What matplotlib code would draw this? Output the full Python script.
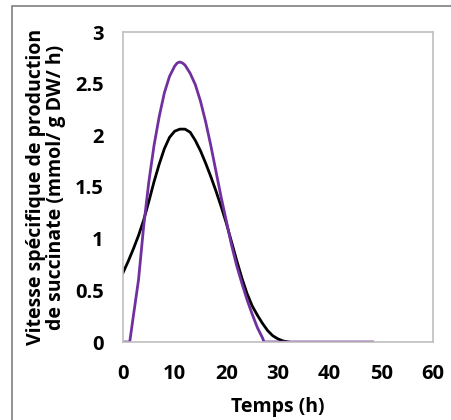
import matplotlib
matplotlib.use("Agg")
from matplotlib import pyplot as plt
from matplotlib.patches import Rectangle

# values
temps_noir = [0, 1, 2, 3, 4, 5, 6, 7, 8, 9, 10, 11, 12, 13, 14, 15, 16,
              17, 18, 19, 20, 21, 22, 23, 24, 25, 26, 27, 28, 29, 30, 31, 32]
vitesse_noir = [0.67, 0.78, 0.90, 1.03, 1.18, 1.36, 1.55, 1.72, 1.87, 1.98,
                2.04, 2.06, 2.06, 2.03, 1.95, 1.85, 1.73, 1.60, 1.46, 1.31,
                1.15, 0.97, 0.79, 0.62, 0.47, 0.35, 0.26, 0.18, 0.11, 0.06,
                0.03, 0.01, 0.0]

temps_violet = [0, 1.3, 2, 3, 4, 5, 6, 7, 8, 9, 10, 10.5, 11, 11.5, 12, 13,
                14, 15, 16, 17, 18, 19, 20, 21, 22, 23, 24, 25, 26, 27, 27.3,
                35, 48.3]
vitesse_violet = [0, 0, 0.25, 0.6, 1.12, 1.55, 1.9, 2.18, 2.41, 2.57, 2.67,
                  2.70, 2.71, 2.70, 2.68, 2.60, 2.49, 2.33, 2.13, 1.90, 1.65,
                  1.40, 1.17, 0.94, 0.74, 0.57, 0.41, 0.27, 0.14, 0.04, 0,
                  0, 0]

plt.rcParams['font.family'] = ['Open Sans', 'DejaVu Sans']

fig = plt.figure(figsize=(4.52, 4.20), dpi=100)
fig.patches.append(Rectangle((12 / 452, -0.1), 1.2, 1 - 6 / 420 + 0.1,
                             transform=fig.transFigure, fill=False,
                             edgecolor='#7f7f7f', linewidth=1.2))

ax = fig.add_axes([123 / 452, 1 - 342 / 420, 310 / 452, 310 / 420])
ax.plot(temps_noir, vitesse_noir, color='black', linewidth=2)
ax.plot(temps_violet, vitesse_violet, color='#7030A0', linewidth=2)

ax.set_xlim(0, 60)
ax.set_ylim(0, 3)
ax.set_xticks([0, 10, 20, 30, 40, 50, 60])
ax.set_yticks([0, 0.5, 1, 1.5, 2, 2.5, 3])
ax.set_yticklabels(['0', '0.5', '1', '1.5', '2', '2.5', '3'])
ax.tick_params(axis='y', length=0, labelsize=14.5, pad=14)
ax.tick_params(axis='x', length=0, labelsize=14.5, pad=16)
for lab in ax.get_xticklabels() + ax.get_yticklabels():
    lab.set_fontweight('bold')
for s in ax.spines.values():
    s.set_color('#bfbfbf')
    s.set_linewidth(1.2)

ax.set_xlabel('Temps (h)', fontsize=14, fontweight='bold', labelpad=9)
ax.set_ylabel('Vitesse spécifique de production\nde succinate (mmol/ g DW/ h)',
              fontsize=14, fontweight='bold', labelpad=6, linespacing=1.0)

plt.savefig("out.png", dpi=100)
